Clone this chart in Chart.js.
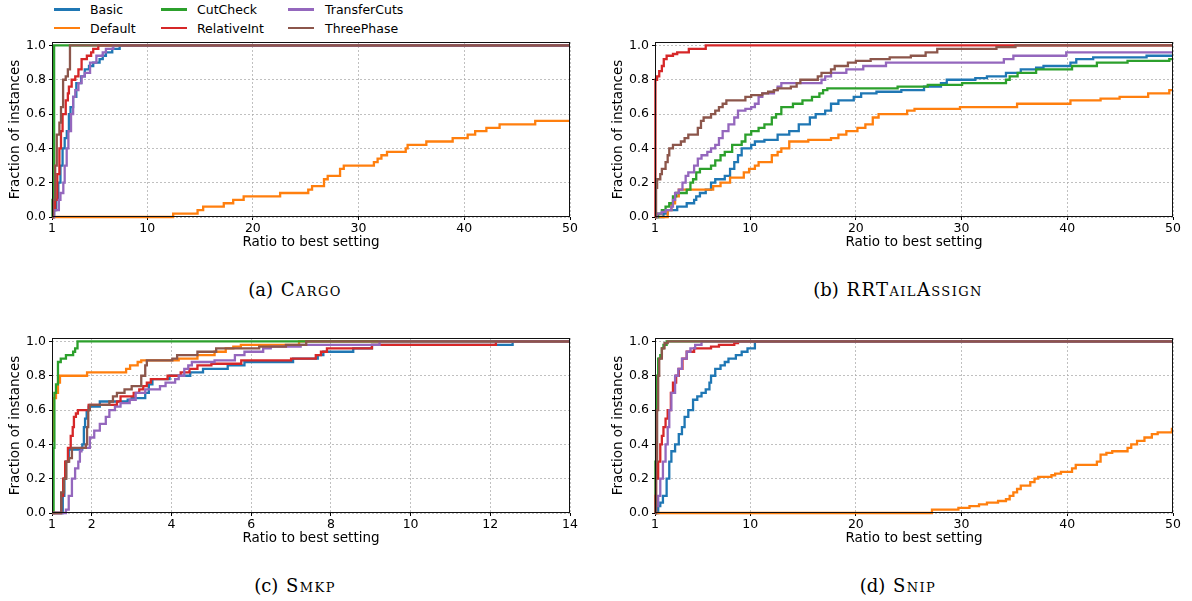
<!DOCTYPE html>
<html><head><meta charset="utf-8">
<script src="https://cdn.jsdelivr.net/npm/chart.js@4.4.1/dist/chart.umd.min.js"></script>
<style>
html,body{margin:0;padding:0;background:#fff;}
body{width:1192px;height:601px;position:relative;overflow:hidden;font-family:'DejaVu Sans',sans-serif;}
.panel{position:absolute;width:590px;height:214px;}
.panel canvas{display:block;}
.leg-line{position:absolute;height:2.3px;width:26px;}
.leg-text{position:absolute;font-size:12.5px;line-height:15px;color:#000;white-space:nowrap;}
.cap{position:absolute;font-family:'DejaVu Serif',serif;font-size:18px;color:#000;white-space:nowrap;transform:translateX(-50%);line-height:20px;word-spacing:2px;}
.sc{font-variant:small-caps;letter-spacing:1.4px;}
</style></head>
<body>
<div id="legend"></div>
<div class="panel" style="left:0px;top:37px;"><canvas id="pa" width="590" height="214"></canvas></div>
<div class="panel" style="left:603px;top:37px;"><canvas id="pb" width="590" height="214"></canvas></div>
<div class="panel" style="left:0px;top:333px;"><canvas id="pc" width="590" height="214"></canvas></div>
<div class="panel" style="left:603px;top:333px;"><canvas id="pd" width="590" height="214"></canvas></div>
<div class="cap" style="left:295px;top:280px;">(a) <span class="sc">Cargo</span></div>
<div class="cap" style="left:898px;top:280px;">(b) <span class="sc">RRTailAssign</span></div>
<div class="cap" style="left:295px;top:576px;">(c) <span class="sc">Smkp</span></div>
<div class="cap" style="left:898px;top:576px;">(d) <span class="sc">Snip</span></div>
<script>
const seriesNames = ['Basic','Default','CutCheck','RelativeInt','TransferCuts','ThreePhase'];
const seriesColors = ['#1f77b4','#ff7f0e','#2ca02c','#d62728','#9467bd','#8c564b'];
const xTicksRatio50 = [1,10,20,30,40,50];
const xTicksRatio14 = [1,2,4,6,8,10,12,14];
const yTicks = [0,0.2,0.4,0.6,0.8,1.0];
const xAxisTitle = 'Ratio to best setting';
const yAxisTitle = 'Fraction of instances';

// (a) Cargo
const cargoBasic = [[1,0],[1.2,0.04],[1.4,0.1],[1.6,0.2],[1.8,0.3],[2.0,0.4],[2.2,0.46],[2.4,0.5],[2.6,0.6],[2.75,0.64],[3.0,0.7],[3.3,0.78],[3.75,0.82],[4.1,0.86],[4.5,0.88],[4.9,0.9],[5.5,0.92],[5.8,0.94],[6.1,0.96],[6.7,0.98],[7.4,1.0],[50,1.0]];
const cargoDefault = [[1,0],[12.46,0.02],[14.77,0.04],[15.3,0.06],[17.25,0.08],[18.14,0.1],[19.13,0.12],[22.58,0.14],[25.24,0.16],[25.6,0.18],[26.73,0.22],[27.08,0.24],[28.25,0.28],[28.6,0.3],[31.45,0.32],[31.8,0.34],[32.16,0.36],[32.69,0.38],[34.46,0.4],[34.64,0.42],[36.41,0.44],[38.9,0.46],[40.32,0.48],[41.03,0.5],[42.09,0.52],[43.34,0.54],[46.71,0.56],[50,0.56]];
const cargoCutCheck = [[1,0],[1.05,0.1],[1.2,1.0],[50,1.0]];
const cargoRelativeInt = [[1,0],[1.15,0.04],[1.3,0.1],[1.5,0.25],[1.7,0.4],[1.85,0.5],[2.0,0.6],[2.3,0.68],[2.5,0.72],[2.6,0.76],[2.86,0.8],[3.2,0.82],[3.5,0.86],[3.8,0.92],[4.3,0.94],[4.7,0.96],[4.9,0.98],[5.38,1.0],[50,1.0]];
const cargoTransferCuts = [[1,0],[1.2,0.04],[1.65,0.1],[1.8,0.14],[2.07,0.2],[2.2,0.3],[2.39,0.4],[2.55,0.5],[2.8,0.6],[3.0,0.7],[3.2,0.74],[3.5,0.78],[3.8,0.82],[4.1,0.84],[4.6,0.9],[5.2,0.94],[5.8,0.96],[6.1,0.98],[6.8,1.0],[50,1.0]];
const cargoThreePhase = [[1,0],[1.1,0.1],[1.3,0.3],[1.45,0.48],[1.7,0.55],[1.85,0.64],[2.05,0.8],[2.3,0.82],[2.5,0.86],[2.7,1.0],[50,1.0]];

// (b) RRTailAssign
const rrBasic = [[1,0],[1.8,0.02],[2.2,0.04],[3.1,0.06],[4.0,0.08],[4.7,0.1],[4.9,0.12],[5.25,0.14],[5.8,0.16],[6.3,0.2],[6.7,0.22],[7.6,0.24],[8.1,0.28],[8.5,0.32],[8.85,0.36],[9.2,0.4],[10.1,0.42],[10.45,0.44],[11.35,0.45],[12.6,0.48],[13.7,0.5],[14.6,0.54],[15.65,0.58],[16.2,0.6],[17.1,0.62],[17.65,0.66],[18.35,0.68],[19.8,0.7],[20.5,0.72],[21.95,0.73],[24.3,0.74],[26.45,0.76],[28.05,0.78],[28.6,0.8],[31.3,0.81],[32.4,0.82],[34.2,0.84],[35.6,0.86],[37.05,0.87],[37.75,0.88],[40.3,0.9],[40.85,0.92],[42.45,0.93],[47.5,0.94],[50,0.94]];
const rrDefault = [[1,0],[2.2,0.04],[2.55,0.08],[2.9,0.12],[3.25,0.16],[6.5,0.18],[7.2,0.2],[8.1,0.23],[9.4,0.26],[9.9,0.28],[10.45,0.3],[10.8,0.32],[12.05,0.36],[12.6,0.38],[12.95,0.4],[13.7,0.44],[15.5,0.45],[17.65,0.46],[18.35,0.48],[19.1,0.5],[20.15,0.52],[20.9,0.54],[21.6,0.58],[22.15,0.6],[24.85,0.62],[25.55,0.63],[29.85,0.64],[35.25,0.66],[40.3,0.68],[43.15,0.69],[44.95,0.7],[47.65,0.72],[49.65,0.74],[50,0.74]];
const rrCutCheck = [[1,0],[1.3,0.02],[1.65,0.04],[2.0,0.06],[2.35,0.08],[2.7,0.12],[3.0,0.14],[4.0,0.16],[4.35,0.2],[4.6,0.22],[4.9,0.26],[5.25,0.28],[6.3,0.3],[6.7,0.33],[7.2,0.36],[7.6,0.38],[8.3,0.42],[9.2,0.44],[9.55,0.48],[10.1,0.5],[10.8,0.52],[11.35,0.54],[12.05,0.58],[12.45,0.6],[12.95,0.64],[14.05,0.66],[14.95,0.68],[15.85,0.7],[16.55,0.72],[16.9,0.74],[17.3,0.75],[23.95,0.76],[26.8,0.77],[30.05,0.78],[34.2,0.8],[34.55,0.82],[35.3,0.84],[37.05,0.86],[40.45,0.88],[42.8,0.9],[45.7,0.91],[49.65,0.92],[50,0.92]];
const rrRelativeInt = [[1,0],[1.04,0.8],[1.2,0.82],[1.4,0.85],[1.65,0.88],[1.83,0.92],[2.1,0.94],[2.7,0.95],[3.1,0.96],[4.2,0.98],[5.8,1.0],[50,1.0]];
const rrTransferCuts = [[1,0],[1.2,0.02],[1.65,0.03],[2.0,0.04],[2.55,0.06],[2.7,0.1],[2.9,0.14],[3.25,0.16],[3.6,0.2],[3.9,0.24],[4.15,0.26],[4.7,0.3],[5.05,0.34],[5.4,0.36],[5.95,0.38],[6.3,0.4],[6.7,0.42],[7.05,0.46],[7.4,0.5],[7.95,0.54],[8.5,0.58],[8.85,0.62],[9.55,0.63],[10.1,0.64],[10.45,0.66],[10.8,0.7],[11.15,0.72],[12.25,0.74],[12.6,0.76],[12.95,0.78],[16.75,0.8],[17.1,0.82],[17.65,0.84],[19.1,0.86],[20.7,0.88],[22.85,0.9],[34.0,0.92],[34.9,0.94],[39.9,0.96],[50,0.96]];
const rrThreePhase = [[1,0],[1.1,0.17],[1.2,0.22],[1.5,0.25],[1.65,0.28],[2.0,0.32],[2.2,0.36],[2.35,0.4],[2.7,0.42],[3.45,0.44],[3.8,0.46],[4.15,0.48],[5.05,0.52],[5.35,0.56],[5.6,0.58],[6.3,0.6],[6.7,0.62],[7.05,0.64],[7.4,0.66],[7.75,0.68],[9.55,0.7],[10.1,0.71],[11.15,0.72],[11.7,0.73],[12.25,0.74],[12.6,0.75],[13.85,0.76],[14.4,0.78],[14.75,0.8],[16.4,0.82],[16.75,0.84],[17.65,0.86],[18.0,0.88],[19.25,0.9],[20.0,0.91],[21.4,0.92],[23.2,0.93],[25.2,0.94],[26.6,0.96],[27.7,0.98],[33.3,0.99],[35.1,1.0],[50,1.0]];

// (c) Smkp
const smkpBasic = [[1,0],[1.27,0.1],[1.31,0.2],[1.35,0.3],[1.42,0.37],[1.76,0.4],[1.8,0.5],[1.83,0.55],[1.87,0.6],[1.92,0.62],[2.2,0.65],[2.9,0.66],[3.0,0.67],[3.34,0.7],[3.43,0.75],[3.52,0.78],[3.95,0.8],[4.47,0.82],[4.79,0.84],[5.41,0.86],[5.83,0.88],[7.05,0.9],[7.67,0.92],[7.81,0.94],[8.56,0.96],[9.03,0.98],[12.56,1.0],[14,1.0]];
const smkpDefault = [[1,0.42],[1.03,0.67],[1.1,0.7],[1.15,0.76],[1.2,0.8],[1.88,0.82],[2.86,0.84],[2.96,0.86],[3.15,0.88],[3.24,0.89],[4.18,0.9],[4.65,0.92],[5.08,0.94],[5.36,0.96],[5.55,0.97],[5.74,0.98],[7.2,1.0],[14,1.0]];
const smkpCutCheck = [[1,0],[1.04,0.38],[1.06,0.7],[1.1,0.75],[1.15,0.88],[1.22,0.9],[1.35,0.92],[1.53,0.94],[1.58,0.96],[1.64,1.0],[14,1.0]];
const smkpRelativeInt = [[1,0],[1.23,0.1],[1.28,0.2],[1.33,0.3],[1.4,0.38],[1.47,0.45],[1.52,0.5],[1.55,0.56],[1.6,0.58],[1.65,0.6],[1.92,0.63],[2.63,0.65],[2.72,0.68],[3.05,0.7],[3.19,0.72],[3.29,0.74],[3.38,0.76],[3.48,0.78],[3.9,0.8],[4.23,0.82],[4.45,0.84],[4.65,0.86],[5.0,0.87],[5.75,0.89],[7.0,0.9],[7.62,0.92],[7.75,0.94],[7.9,0.96],[9.03,0.98],[12.14,1.0],[14,1.0]];
const smkpTransferCuts = [[1,0],[1.35,0.02],[1.42,0.1],[1.5,0.2],[1.58,0.26],[1.66,0.3],[1.7,0.36],[1.74,0.38],[1.95,0.44],[2.06,0.48],[2.2,0.52],[2.35,0.56],[2.44,0.6],[2.58,0.62],[2.72,0.64],[2.95,0.66],[3.1,0.7],[3.34,0.72],[3.71,0.74],[3.85,0.76],[4.09,0.78],[4.18,0.8],[4.32,0.84],[4.42,0.86],[4.51,0.88],[5.08,0.89],[5.59,0.92],[5.83,0.94],[6.3,0.96],[6.49,0.97],[7.24,0.98],[9.22,1.0],[14,1.0]];
const smkpThreePhase = [[1,0],[1.23,0.12],[1.3,0.2],[1.36,0.3],[1.43,0.32],[1.5,0.38],[1.85,0.4],[1.88,0.5],[1.91,0.6],[1.95,0.63],[2.44,0.65],[2.53,0.68],[2.63,0.7],[2.82,0.72],[3.0,0.74],[3.24,0.8],[3.34,0.86],[3.38,0.89],[4.02,0.9],[4.14,0.92],[4.65,0.94],[5.12,0.96],[6.2,0.97],[6.87,0.98],[7.38,1.0],[14,1.0]];

// (d) Snip
const snipBasic = [[1,0],[1.3,0.04],[1.5,0.06],[1.75,0.1],[2.1,0.2],[2.35,0.3],[2.55,0.36],[2.9,0.4],[3.25,0.46],[3.55,0.5],[3.8,0.56],[4.15,0.6],[4.6,0.66],[5.0,0.68],[5.4,0.7],[5.8,0.72],[6.15,0.76],[6.3,0.8],[6.7,0.84],[7.2,0.86],[7.6,0.88],[7.95,0.9],[8.65,0.92],[9.2,0.94],[9.75,0.96],[10.45,1.0],[50,1.0]];
const snipDefault = [[1,0],[27.2,0.02],[29.7,0.03],[30.75,0.04],[31.65,0.05],[32.4,0.06],[33.45,0.07],[34.2,0.08],[34.55,0.1],[34.9,0.12],[35.25,0.14],[35.6,0.16],[36.5,0.18],[36.9,0.2],[37.25,0.21],[38.5,0.22],[38.85,0.23],[39.4,0.24],[40.45,0.26],[40.8,0.28],[42.8,0.3],[43.15,0.34],[43.7,0.35],[44.25,0.36],[45.7,0.38],[46.05,0.4],[46.6,0.42],[47.3,0.44],[48.0,0.46],[48.55,0.47],[49.9,0.49],[50,0.49]];
const snipCutCheck = [[1,0],[1.04,0.3],[1.1,0.6],[1.2,0.8],[1.3,0.9],[1.5,0.92],[1.65,0.96],[1.8,0.98],[2.1,1.0],[50,1.0]];
const snipRelativeInt = [[1,0],[1.05,0.1],[1.1,0.2],[1.3,0.3],[1.5,0.4],[1.65,0.45],[1.8,0.5],[2.0,0.55],[2.2,0.6],[2.5,0.7],[2.7,0.76],[3.0,0.8],[3.25,0.84],[3.6,0.9],[4.0,0.94],[4.7,0.96],[6.3,0.97],[7.05,0.98],[8.5,0.99],[8.85,1.0],[50,1.0]];
const snipTransferCuts = [[1,0],[1.1,0.04],[1.3,0.1],[1.5,0.2],[1.75,0.3],[2.0,0.4],[2.2,0.5],[2.35,0.6],[2.55,0.7],[2.9,0.8],[3.2,0.84],[3.55,0.9],[4.0,0.94],[4.35,0.96],[4.8,0.98],[5.4,1.0],[50,1.0]];
const snipThreePhase = [[1,0],[1.1,0.3],[1.2,0.6],[1.3,0.8],[1.4,0.9],[1.65,0.96],[1.9,0.99],[2.2,1.0],[50,1.0]];

// ---- legend (HTML, matplotlib-like, column-major 3 columns) ----
(function(){
  const leg = document.getElementById('legend');
  const colLine = [54,161,288], colText = [90,197,325];
  const rowLine = [8.4,26.6], rowText = [2,20.9];
  seriesNames.forEach((name,i)=>{
    const c = Math.floor(i/2), r = i%2;
    const l = document.createElement('div');
    l.className='leg-line'; l.style.left=colLine[c]+'px'; l.style.top=rowLine[r]+'px'; l.style.background=seriesColors[i];
    const t = document.createElement('div');
    t.className='leg-text'; t.style.left=colText[c]+'px'; t.style.top=rowText[r]+'px'; t.textContent=name;
    leg.appendChild(l); leg.appendChild(t);
  });
})();

const framePlugin = {
  id:'frame',
  afterDatasetsDraw(chart){
    const {ctx, chartArea:a} = chart;
    ctx.save();
    ctx.strokeStyle='#111'; ctx.lineWidth=1;
    const l=Math.round(a.left)+0.5, t=Math.round(a.top)+0.5, r=Math.round(a.right)-0.5, b=Math.round(a.bottom)-0.5;
    ctx.strokeRect(l,t,r-l,b-t);
    ctx.restore();
  }
};

const tickFont = {family:'DejaVu Sans', size:12.5};
const titleFont = {family:'DejaVu Sans', size:13.5};

function makePanel(id, series, xMax, xTicks){
  const datasets = series.map((pts,i)=>({
    label: seriesNames[i],
    data: pts.map(p=>({x:p[0], y:p[1]})),
    borderColor: seriesColors[i],
    backgroundColor: seriesColors[i],
    borderWidth: 2.3,
    pointRadius: 0,
    pointHoverRadius: 0,
    stepped: 'before',
    fill: false,
    clip: false,
    order: series.length - i
  }));
  new Chart(document.getElementById(id), {
    type:'line',
    data:{datasets},
    plugins:[framePlugin],
    options:{
      responsive:false, animation:false, devicePixelRatio:1,
      layout:{padding:{top:5,right:20,left:0,bottom:0}},
      plugins:{legend:{display:false}, tooltip:{enabled:false}},
      events:[],
      scales:{
        x:{
          type:'linear', min:1, max:xMax,
          afterBuildTicks: s => { s.ticks = xTicks.map(v=>({value:v})); },
          afterFit: s => { s.height = 34; s.paddingLeft = 0; s.paddingRight = 0; },
          ticks:{font:tickFont, color:'#000', padding:1, maxRotation:0, autoSkip:false, callback:v=>String(v)},
          grid:{color:'#b0b0b0', lineWidth:0.8, drawTicks:true, tickLength:3, tickColor:'#000', tickWidth:1},
          border:{display:false, dash:[2,2]},
          title:{display:true, text:xAxisTitle, font:titleFont, color:'#000', padding:{top:0,bottom:0}}
        },
        y:{
          type:'linear', min:0, max:1.02,
          afterBuildTicks: s => { s.ticks = yTicks.map(v=>({value:v})); },
          afterFit: s => { s.width = 52; s.paddingTop = 0; s.paddingBottom = 0; },
          ticks:{font:tickFont, color:'#000', padding:3, callback:v=>Number(v).toFixed(1)},
          grid:{color:'#b0b0b0', lineWidth:0.8, drawTicks:true, tickLength:3, tickColor:'#000', tickWidth:1},
          border:{display:false, dash:[2,2]},
          title:{display:true, text:yAxisTitle, font:titleFont, color:'#000', padding:{top:7,bottom:0}}
        }
      }
    }
  });
}

makePanel('pa', [cargoBasic, cargoDefault, cargoCutCheck, cargoRelativeInt, cargoTransferCuts, cargoThreePhase], 50, xTicksRatio50);
makePanel('pb', [rrBasic, rrDefault, rrCutCheck, rrRelativeInt, rrTransferCuts, rrThreePhase], 50, xTicksRatio50);
makePanel('pc', [smkpBasic, smkpDefault, smkpCutCheck, smkpRelativeInt, smkpTransferCuts, smkpThreePhase], 14, xTicksRatio14);
makePanel('pd', [snipBasic, snipDefault, snipCutCheck, snipRelativeInt, snipTransferCuts, snipThreePhase], 50, xTicksRatio50);
</script>
</body></html>
